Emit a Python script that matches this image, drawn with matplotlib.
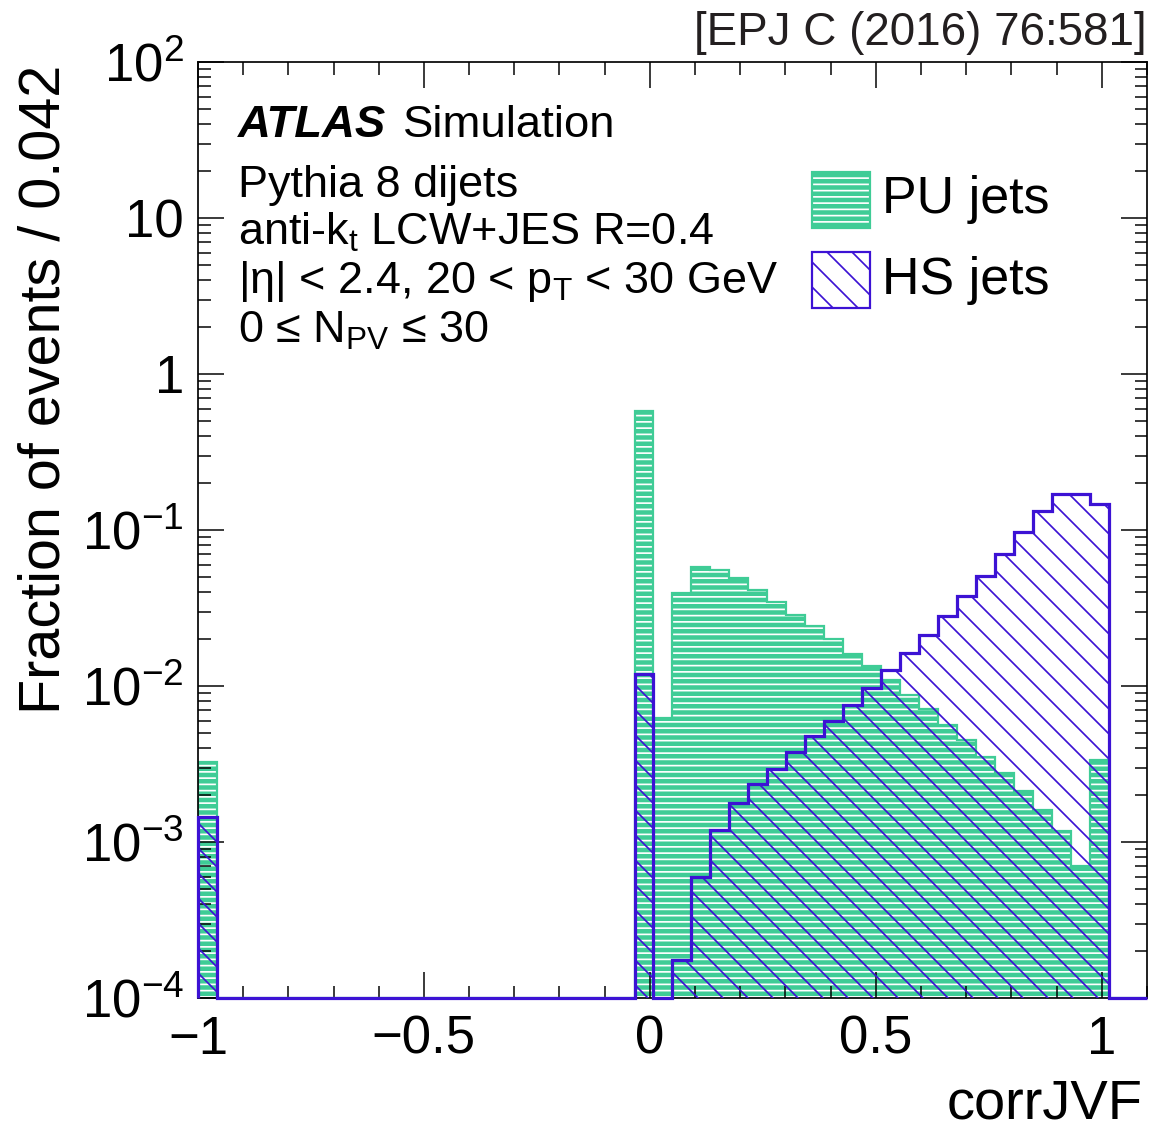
import numpy as np
import matplotlib
matplotlib.use("Agg")
import matplotlib.pyplot as plt
from matplotlib.patches import Rectangle
from matplotlib.ticker import FixedLocator, FixedFormatter, MultipleLocator, LogLocator, NullFormatter

# dpi 75 so that the hatch spacing (set per inch) comes out close to the ROOT one
DPI = 75
def px(v):
    # pixel size -> points
    return v * 72.0 / DPI

plt.rcParams['font.family'] = ['Liberation Sans', 'DejaVu Sans']
plt.rcParams['mathtext.fontset'] = 'custom'
plt.rcParams['mathtext.rm'] = 'Liberation Sans'
plt.rcParams['mathtext.it'] = 'Liberation Sans:italic'
plt.rcParams['mathtext.bf'] = 'Liberation Sans:bold'
plt.rcParams['hatch.linewidth'] = px(1.7)

#--------------------------------------------data (50 bins of 0.042 from -1 to 1.1)
x_min, x_max, n_bins = -1.0, 1.1, 50
pu_jets = [3.27e-3] + [0]*22 + [
    0.575, 6.26e-3, 0.0395, 0.058, 0.0557, 0.0489, 0.0411, 0.0346, 0.0287, 0.0241,
    0.0201, 0.0160, 0.0134, 0.0110, 0.0088, 0.0071, 0.00565, 0.00452, 0.00353, 0.00277,
    0.00211, 0.00161, 0.00118, 0.00070, 0.00333] + [0, 0]
hs_jets = [1.44e-3] + [0]*22 + [
    0.0120, 0, 1.75e-4, 6.0e-4, 1.2e-3, 1.77e-3, 2.36e-3, 2.93e-3, 3.77e-3, 4.75e-3,
    6.0e-3, 7.6e-3, 9.7e-3, 0.0126, 0.0163, 0.0211, 0.028, 0.0376, 0.0505, 0.0706,
    0.0973, 0.132, 0.171, 0.171, 0.146] + [0, 0]

x_ticks = [-1, -0.5, 0, 0.5, 1]
x_labels = ['\u22121', '\u22120.5', '0', '0.5', '1']
y_ticks = [1e-4, 1e-3, 1e-2, 1e-1, 1, 10, 100]
y_labels = [r'$10^{-4}$', r'$10^{-3}$', r'$10^{-2}$', r'$10^{-1}$', '1', '10', r'$10^{2}$']

info_lines = ['Pythia 8 dijets',
              r'anti-k$_{\mathrm{t}}$ LCW+JES R=0.4',
              r'|$\mathrm{\eta}$| < 2.4, 20 < p$_{\mathrm{T}}$ < 30 GeV',
              '0 \u2264 N$_{\\mathrm{PV}}$ \u2264 30']

green = '#3fcc96'
blue = '#3c12d4'
y_min, y_max = 1e-4, 1e2

#--------------------------------------------figure
fig = plt.figure(figsize=(1151 / DPI, 1135 / DPI), dpi=DPI)
ax = fig.add_axes([0.172, 0.1207, 0.8245, 0.8247])

edges = np.linspace(x_min, x_max, n_bins + 1)
pu = np.array(pu_jets, dtype=float)
hs = np.array(hs_jets, dtype=float)
pu_d = np.where(pu > 0, pu, y_min)
hs_d = np.where(hs > 0, hs, y_min)

ax.stairs(pu_d, edges, baseline=y_min, fill=True, facecolor=green, edgecolor='white',
          hatch='--', linewidth=0, zorder=1)
ax.stairs(pu_d, edges, baseline=y_min, fill=False, color=green, linewidth=px(2.2), zorder=2)
ax.stairs(hs_d, edges, baseline=y_min, fill=True, facecolor='none', edgecolor=blue,
          hatch='\\', linewidth=0, zorder=3)
ax.stairs(hs_d, edges, baseline=y_min, fill=False, color=blue, linewidth=px(3.2), zorder=4,
          clip_on=False)

ax.set_yscale('log')
ax.set_xlim(x_min, x_max)
ax.set_ylim(y_min, y_max)

ax.xaxis.set_major_locator(FixedLocator(x_ticks))
ax.xaxis.set_major_formatter(FixedFormatter(x_labels))
ax.xaxis.set_minor_locator(MultipleLocator(0.1))
ax.yaxis.set_major_locator(FixedLocator(y_ticks))
ax.yaxis.set_major_formatter(FixedFormatter(y_labels))
ax.yaxis.set_minor_locator(LogLocator(base=10, subs=np.arange(2, 10), numticks=20))
ax.yaxis.set_minor_formatter(NullFormatter())

ax.tick_params(which='both', direction='in', top=True, right=True, width=px(1.5))
ax.tick_params(which='major', length=px(26), labelsize=px(52.8))
ax.tick_params(which='minor', length=px(12.5))
ax.tick_params(axis='x', which='major', pad=px(16.5))
ax.tick_params(axis='y', which='major', pad=px(14))
for s in ax.spines.values():
    s.set_linewidth(px(1.7))

fig.text(0.039, 0.9427, 'Fraction of events / 0.042', rotation=90, ha='center', va='top',
         fontsize=px(57.5))
fig.text(0.993, 0.004, 'corrJVF', ha='right', va='bottom', fontsize=px(56))
fig.text(0.9965, 0.9604, '[EPJ C (2016) 76:581]', ha='right', va='baseline', fontsize=px(45.8),
         color='#231f20')

#--------------------------------------------labels
ax.text(0.042, 0.920, 'ATLAS', transform=ax.transAxes, fontsize=px(45.5), fontweight='bold',
        fontstyle='italic', va='baseline')
ax.text(0.216, 0.920, 'Simulation', transform=ax.transAxes, fontsize=px(45.5), va='baseline')
y_pos = [0.856, 0.8045, 0.753, 0.700]
for txt, yy in zip(info_lines, y_pos):
    ax.text(0.042, yy, txt, transform=ax.transAxes, fontsize=px(45), va='baseline')

# legend
ax.add_patch(Rectangle((0.647, 0.8226), 0.061, 0.06, transform=ax.transAxes,
                       facecolor=green, edgecolor='white', hatch='--', linewidth=0, zorder=5))
ax.add_patch(Rectangle((0.647, 0.8226), 0.061, 0.06, transform=ax.transAxes,
                       fill=False, edgecolor=green, linewidth=px(2.2), zorder=6))
ax.add_patch(Rectangle((0.647, 0.737), 0.061, 0.06, transform=ax.transAxes,
                       facecolor='white', edgecolor=blue, hatch='\\', linewidth=0, zorder=5))
ax.add_patch(Rectangle((0.647, 0.737), 0.061, 0.06, transform=ax.transAxes,
                       fill=False, edgecolor=blue, linewidth=px(2.2), zorder=6))
ax.text(0.7208, 0.8526, 'PU jets', transform=ax.transAxes, fontsize=px(52), va='center')
ax.text(0.7208, 0.767, 'HS jets', transform=ax.transAxes, fontsize=px(52), va='center')

fig.savefig('out.png', dpi=DPI)
